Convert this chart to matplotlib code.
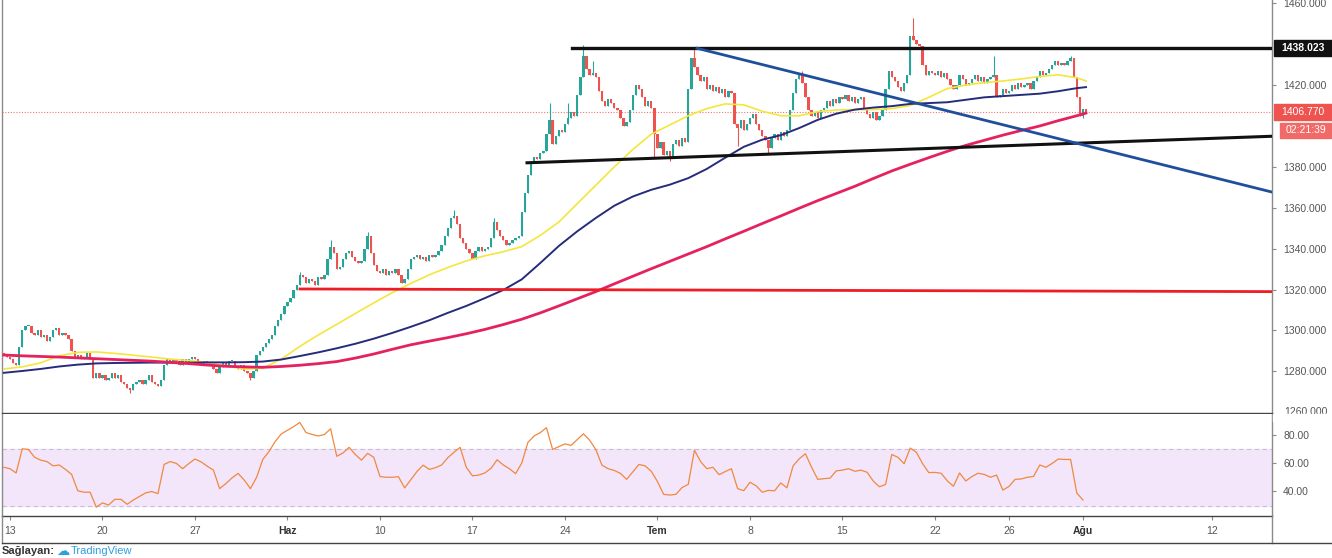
import numpy as np
import matplotlib
matplotlib.use("Agg")
import matplotlib.pyplot as plt
from matplotlib.lines import Line2D
from matplotlib.patches import Rectangle
from matplotlib import transforms

# ---- data: XAU/USD 4H candles, 13 May - 1 Aug (trading days) ----
first_open = 1289
closes_pre = [1288, 1287]
closes_days = [
    [1286, 1284, 1283, 1292, 1300, 1302],
    [1302, 1299, 1298, 1300, 1297, 1298],
    [1295, 1297, 1300, 1301, 1298, 1299],
    [1298, 1296, 1290, 1287, 1288, 1286],
    [1287, 1289, 1286, 1277, 1279, 1277],
    [1278, 1276, 1277, 1279, 1277, 1278],
    [1275, 1274, 1272, 1271, 1274, 1275],
    [1276, 1274, 1276, 1278, 1275, 1274],
    [1273, 1276, 1283, 1286, 1284, 1286],
    [1285, 1283, 1286, 1284, 1286, 1287],
    [1286, 1285, 1283, 1285, 1284, 1283],
    [1281, 1279, 1282, 1284, 1283, 1285],
    [1285, 1282, 1281, 1283, 1280, 1279],
    [1277, 1280, 1288, 1290, 1292, 1294],
    [1296, 1298, 1302, 1305, 1308, 1312],
    [1314, 1316, 1320, 1322, 1327, 1326],
    [1323, 1325, 1324, 1322, 1326, 1325],
    [1327, 1335, 1341, 1338, 1330, 1331],
    [1335, 1338, 1339, 1336, 1334, 1333],
    [1334, 1340, 1346, 1338, 1332, 1329],
    [1328, 1330, 1327, 1329, 1328, 1330],
    [1327, 1323, 1325, 1330, 1335, 1336],
    [1337, 1335, 1336, 1334, 1337, 1336],
    [1337, 1339, 1342, 1346, 1350, 1355],
    [1356, 1352, 1345, 1343, 1340, 1338],
    [1335, 1339, 1341, 1339, 1340, 1341],
    [1345, 1353, 1349, 1346, 1344, 1342],
    [1343, 1344, 1345, 1346, 1358, 1367],
    [1376, 1382, 1385, 1384, 1387, 1388],
    [1396, 1403, 1391, 1395, 1398, 1397],
    [1401, 1404, 1407, 1405, 1415, 1424],
    [1434, 1428, 1425, 1426, 1424, 1417],
    [1412, 1410, 1413, 1411, 1409, 1408],
    [1404, 1400, 1402, 1408, 1415, 1420],
    [1418, 1414, 1410, 1412, 1409, 1396],
    [1389, 1392, 1386, 1388, 1385, 1391],
    [1393, 1390, 1394, 1392, 1418, 1433],
    [1429, 1425, 1422, 1424, 1418, 1420],
    [1417, 1419, 1416, 1418, 1414, 1417],
    [1416, 1401, 1399, 1403, 1398, 1401],
    [1404, 1406, 1401, 1398, 1395, 1393],
    [1389, 1394, 1396, 1393, 1397, 1395],
    [1398, 1408, 1416, 1423, 1425, 1421],
    [1414, 1408, 1405, 1407, 1404, 1408],
    [1409, 1412, 1410, 1413, 1411, 1414],
    [1413, 1415, 1412, 1414, 1411, 1413],
    [1414, 1409, 1406, 1404, 1407, 1403],
    [1405, 1408, 1418, 1427, 1424, 1422],
    [1419, 1417, 1421, 1425, 1444, 1442],
    [1440, 1439, 1430, 1425, 1427, 1426],
    [1425, 1427, 1424, 1426, 1423, 1420],
    [1418, 1420, 1425, 1423, 1420, 1421],
    [1423, 1425, 1422, 1424, 1421, 1423],
    [1424, 1425, 1414, 1415, 1418, 1416],
    [1417, 1420, 1418, 1421, 1419, 1420],
    [1421, 1418, 1422, 1424, 1427, 1425],
    [1426, 1428, 1430, 1432, 1430, 1431],
    [1430, 1432, 1433, 1424, 1414, 1405],
    [1408.5, 1406.77],
]
# visible wick extremes (candle index -> price)
wick_high = {96: 1328.5, 106: 1344, 118: 1348, 146: 1359, 159: 1355, 177: 1411,
             183: 1411, 188: 1439.6, 191: 1432, 224: 1438, 259: 1427, 295: 1453,
             321: 1434, 346: 1434}
wick_low = {41: 1269.5, 80: 1276, 211: 1385, 216: 1383, 238: 1390, 248: 1387, 350: 1404}

# moving averages, one value per trading day (+ last candle)
ema50 = [1281.2, 1282.2, 1284.2, 1287.6, 1289.3, 1289.5, 1288.8, 1287.9, 1287, 1286,
         1285.3, 1284.3, 1282.6, 1281.2, 1281.5, 1286, 1292.2, 1297.8, 1303, 1308.3,
         1313.5, 1318.5, 1323, 1327.2, 1330.8, 1334, 1336.5, 1338.5, 1341, 1346.5,
         1353, 1362, 1371, 1380, 1388.5, 1396, 1400.5, 1405, 1408.5, 1410.8,
         1410.3, 1407.2, 1405, 1405, 1407, 1407.8, 1408, 1408, 1408.5, 1410,
         1414, 1418.3, 1420, 1421.2, 1422, 1423, 1424.2, 1425, 1423.6, 1422]
ema100 = [1279.3, 1280.2, 1281.2, 1282.4, 1283.3, 1283.9, 1284.1, 1284.2, 1284.3, 1284.3,
          1284.3, 1284.4, 1284.4, 1284.5, 1284.8, 1285.8, 1287.5, 1289.3, 1291.3, 1293.5,
          1296, 1298.8, 1301.8, 1305, 1308.6, 1312, 1315.8, 1319.8, 1325, 1333,
          1341.3, 1348.5, 1355, 1361, 1365.5, 1368.8, 1371.3, 1374.5, 1379, 1384.5,
          1389.8, 1393.3, 1395.5, 1399, 1403, 1406, 1408, 1409, 1409.7, 1410.8,
          1411.2, 1411.6, 1412.8, 1414, 1414.6, 1415.2, 1415.8, 1417, 1418.5, 1419]
ema200 = [1288, 1287.6, 1287.3, 1287, 1286.6, 1286.2, 1285.8, 1285.4, 1285, 1284.4,
          1283.8, 1283.1, 1282.5, 1282.2, 1282, 1282.4, 1283, 1283.8, 1284.8, 1286.5,
          1288.5, 1290.8, 1293, 1294.8, 1296.5, 1298.4, 1300.5, 1302.9, 1305.5, 1308.6,
          1312, 1315.5, 1319, 1322.8, 1326.5, 1330.2, 1333.8, 1337.4, 1341, 1344.8,
          1348.5, 1352.3, 1356, 1359.8, 1363.5, 1367, 1370.5, 1374.3, 1378, 1381.3,
          1384.5, 1387.6, 1390.5, 1393, 1395.5, 1397.8, 1400, 1402.6, 1405, 1406.3]

# RSI, one value every 2 candles
rsi = [57, 56, 53, 70, 69.5, 64, 62, 61, 58, 58.6, 55.5, 52, 40.5, 39.5, 39.5, 29,
       32, 30.5, 34.5, 34.5, 31, 34, 36.5, 39, 40, 38.5, 59, 61, 59.7, 56, 59.6, 62.8,
       60.8, 57.7, 55, 42, 45.5, 49.5, 52.7, 48, 42, 50, 62.5, 68, 75, 80.4, 83, 85.5,
       88.5, 81.4, 80, 79, 80, 84, 64.7, 67, 71, 66, 62, 66.8, 64, 50.5, 50, 50, 50.4,
       42.5, 48.3, 54, 58.5, 55.5, 56.7, 58.6, 63.7, 67.5, 71, 57, 51, 51.5, 53, 56.2,
       62.3, 58.6, 56, 52.5, 60, 74.5, 79, 81.3, 84.8, 69.5, 71.5, 73.4, 72.4, 76.5,
       80.5, 76, 69.5, 58.5, 56, 54.8, 52.7, 48.5, 53.8, 59, 58, 54.2, 47, 38, 37.5, 38,
       42.8, 45, 69, 61, 56, 57, 51.8, 54, 56, 42, 40.6, 46.5, 44, 39.5, 40.8, 40.5, 46,
       42.6, 58, 63, 66.5, 57, 48.5, 49, 49.4, 54.5, 55, 56, 54.2, 55, 53.5, 47.3, 43.3,
       45, 66, 64, 59.5, 70.5, 67.5, 59.5, 53.3, 53.4, 52.8, 47.5, 43.7, 53, 47.4, 50.5,
       52.8, 52, 50, 51.5, 41, 43.5, 48.5, 48.8, 50, 50.6, 58.6, 57, 59.7, 62.8, 62.5,
       62.5, 39, 34]

# drawn lines: (trading-day, price) end points
resistance = ([30.38, 68.3], [1438.023, 1438.023])
support = ([27.95, 68.3], [1382, 1395])
down_trend = ([37.14, 68.3], [1438, 1367.5])
red_level = ([15.68, 68.3], [1320.3, 1319])

date_pos = [0, 5, 10, 15, 20, 25, 30, 35, 40, 45, 50, 54, 58, 65]
date_labels = ["13", "20", "27", "Haz", "10", "17", "24", "Tem", "8", "15", "22", "26", "Ağu", "12"]
price_ticks = [1460, 1420, 1380, 1360, 1340, 1320, 1300, 1280]
rsi_ticks = [80, 60, 40]
last_price = 1406.77

# ---- figure ----
W, H = 1332, 558
plt.rcParams["font.family"] = ["Liberation Sans", "DejaVu Sans"]
fig = plt.figure(figsize=(W / 100, H / 100), dpi=100)
fig.patch.set_facecolor("white")


def fx(px):
    return px / W


def fy(py):
    return 1 - py / H


GREEN, RED = "#26a69a", "#ef5350"
AXC, TXT = "#8a8a8a", "#555555"

ax = fig.add_axes([fx(2), fy(413), fx(1272) - fx(2), fy(0) - fy(413)])
ax_rsi = fig.add_axes([fx(2), fy(516), fx(1272) - fx(2), fy(414) - fy(516)], sharex=ax)

closes = np.array(closes_pre + [c for d in closes_days for c in d], dtype=float)
opens = np.concatenate([[first_open], closes[:-1]])
n = len(closes)
t = (np.arange(n) - 2) / 6.0
highs = np.maximum(opens, closes)
lows = np.minimum(opens, closes)
for i, v in wick_high.items():
    highs[i] = v
for i, v in wick_low.items():
    lows[i] = v
cols = np.where(closes >= opens, GREEN, RED)

ax.vlines(t, lows, highs, colors=cols, linewidth=0.8, zorder=3)
ax.bar(t, np.maximum(np.abs(closes - opens), 0.5), bottom=np.minimum(opens, closes),
       width=0.125, color=cols, linewidth=0, zorder=3)

ma_t = (np.array(list(range(0, n - 2, 6)) + [n - 1]) - 2) / 6.0
ax.plot(ma_t, ema50, color="#f5e63c", lw=1.2, zorder=4)
ax.plot(ma_t, ema100, color="#262c7a", lw=1.4, zorder=4)
ax.plot(ma_t, ema200, color="#e5215e", lw=2.0, zorder=4)

ax.plot(*resistance, color="#111111", lw=2.4, zorder=5)
ax.plot(*support, color="#111111", lw=2.2, zorder=5)
ax.plot(*down_trend, color="#1f4e9a", lw=2.0, zorder=5)
ax.plot(*red_level, color="#ee1c24", lw=2.0, zorder=5)

ax.axhline(last_price, color=RED, lw=0.8, ls=(0, (1, 1.5)), alpha=0.8, zorder=2)

ax.set_xlim(-0.43, 68.22)
ax.set_ylim(1259.65, 1461.6)

for a in (ax, ax_rsi):
    a.set_facecolor("white")
    a.yaxis.tick_right()
    a.spines["top"].set_visible(False)
    a.spines["left"].set_color(AXC)
    a.spines["right"].set_color(AXC)
    a.spines["bottom"].set_color("#444444")
    for s in a.spines.values():
        s.set_linewidth(1.0)
    a.tick_params(axis="y", length=3, width=0.8, color=AXC, pad=5,
                  labelsize=7.5, labelcolor=TXT)

ax.set_yticks(price_ticks)
ax.set_yticklabels([f"{v:.3f}" for v in price_ticks])
ax.tick_params(axis="x", bottom=False, labelbottom=False)

# price label boxes on the right axis
bt = transforms.blended_transform_factory(fig.transFigure, ax.transData)
ax.add_patch(Rectangle((fx(1274), 1438.023 - 3.9), fx(1332) - fx(1274), 7.8,
                       transform=bt, color="#111111", clip_on=False, zorder=10))
ax.text(fx(1303), 1438.023, "1438.023", transform=bt, color="white", fontsize=7.5,
        fontweight="bold", ha="center", va="center", clip_on=False, zorder=11)
ax.add_patch(Rectangle((fx(1274), last_price - 4.0), fx(1332) - fx(1274), 8.0,
                       transform=bt, color=RED, clip_on=False, zorder=10))
ax.text(fx(1303), last_price, f"{last_price:.3f}", transform=bt, color="white",
        fontsize=7.5, ha="center", va="center", clip_on=False, zorder=11)
ax.add_patch(Rectangle((fx(1280), last_price - 12.7), fx(1331) - fx(1280), 7.6,
                       transform=bt, color="#f06b68", clip_on=False, zorder=10))
ax.text(fx(1305.5), last_price - 8.9, "02:21:39", transform=bt, color="white",
        fontsize=7.5, ha="center", va="center", clip_on=False, zorder=11)

# partially hidden 1260 label (lower half covered by the RSI pane)
fig.text(fx(1284), fy(412), "1260.000", fontsize=7.5, color=TXT, va="center", zorder=3)
fig.add_artist(Rectangle((fx(1273), fy(421)), fx(1332) - fx(1273), fy(414) - fy(421),
                         transform=fig.transFigure, color="white", zorder=6))

# ---- RSI panel ----
rsi_t = (np.arange(len(rsi)) * 2 - 2) / 6.0
ax_rsi.axhspan(30, 70, color="#f3e6fb", zorder=0)
ax_rsi.axhline(70, color="#c9bfd2", lw=0.8, ls=(0, (4, 3)), zorder=1)
ax_rsi.axhline(30, color="#c9bfd2", lw=0.8, ls=(0, (4, 3)), zorder=1)
ax_rsi.plot(rsi_t, rsi, color="#f0883e", lw=0.9, zorder=3)
ax_rsi.set_ylim(22.8, 94.4)
ax_rsi.set_yticks(rsi_ticks)
ax_rsi.set_yticklabels([f"{v:.2f}" for v in rsi_ticks])

ax_rsi.set_xticks(date_pos)
ax_rsi.set_xticklabels(date_labels)
ax_rsi.tick_params(axis="x", length=3, width=0.8, color=AXC, pad=4,
                   labelsize=7.5, labelcolor=TXT)
for lbl in ax_rsi.get_xticklabels():
    if lbl.get_text() in ("Haz", "Tem", "Ağu"):
        lbl.set_fontweight("bold")
        lbl.set_color("#333333")

# frame around the date strip
fig.add_artist(Line2D([fx(2), fx(2)], [fy(516), fy(543)], color=AXC, lw=1.0))
fig.add_artist(Line2D([fx(1272), fx(1272)], [fy(516), fy(543)], color=AXC, lw=1.0))
fig.add_artist(Line2D([fx(2), 1], [fy(543), fy(543)], color="#444444", lw=1.0))

fig.text(fx(2), fy(546), "Sağlayan:", fontsize=8, fontweight="bold", color="#333333", va="top")
fig.text(fx(56), fy(545), "\u2601", fontsize=9.5, color="#2f9fe0", va="top",
         family="DejaVu Sans")
fig.text(fx(71), fy(546), "TradingView", fontsize=8, color="#2f9fe0", va="top")

fig.savefig("out.png", dpi=100, facecolor="white")
